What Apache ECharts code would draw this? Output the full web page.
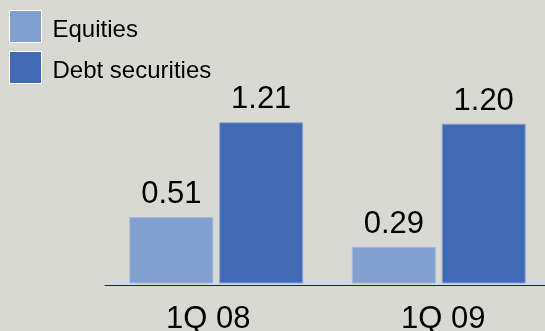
<!DOCTYPE html>
<html>
<head>
<meta charset="utf-8">
<script src="https://cdn.jsdelivr.net/npm/echarts@6/dist/echarts.min.js"></script>
<style>
html,body{margin:0;padding:0;background:#d9d9d4;}
#main{width:545px;height:331px;}
</style>
</head>
<body>
<div id="main"></div>
<script>
var categories = ['1Q 08', '1Q 09'];
var equities = [0.51, 0.29];
var debtSecurities = [1.21, 1.20];
var seriesNames = ['Equities', 'Debt securities'];

var FONT = "'Liberation Sans', Arial, sans-serif";
var chart = echarts.init(document.getElementById('main'), null, {renderer: 'canvas'});
var labelStyle = {
  show: true, position: 'top', distance: 7,
  fontSize: 31, fontFamily: FONT, color: '#000',
  formatter: function (p) { return p.value.toFixed(2); }
};
chart.setOption({
  backgroundColor: '#d9d9d4',
  animation: false,
  legend: {
    orient: 'vertical', left: 9, top: 10, padding: 0,
    itemWidth: 32, itemHeight: 32, itemGap: 8,
    icon: 'rect',
    data: seriesNames,
    itemStyle: {borderColor: '#ffffff', borderWidth: 1},
    formatter: function (name) { return '{t|' + name + '}'; },
    textStyle: {
      fontSize: 24, fontFamily: FONT, color: '#000',
      rich: {t: {fontSize: 24, fontFamily: FONT, color: '#000', padding: [7, 0, 0, 6]}}
    }
  },
  grid: {left: 105, top: 122.3, width: 445, bottom: 48, containLabel: false, outerBoundsMode: 'none'},
  xAxis: {
    type: 'category', data: categories,
    offset: 2,
    axisLine: {lineStyle: {color: '#0c2a57', width: 1}},
    axisTick: {show: false},
    axisLabel: {
      margin: 19, fontSize: 31, fontFamily: FONT, color: '#000',
      formatter: function (v, i) { return i === 0 ? '{a|' + v + '}' : '{b|' + v + '}'; },
      rich: {
        a: {fontSize: 31, fontFamily: FONT, color: '#000', padding: [0, 16, 0, 0]},
        b: {fontSize: 31, fontFamily: FONT, color: '#000', padding: [0, 0, 0, 9]}
      }
    }
  },
  yAxis: {
    type: 'value', min: 0.023, max: 1.21, show: false,
    splitLine: {show: false}
  },
  series: [
    {
      name: seriesNames[0], type: 'bar', data: equities,
      barWidth: 84, barGap: '7%',
      itemStyle: {color: '#819fcf', borderColor: '#a5b8df', borderWidth: 1},
      label: labelStyle
    },
    {
      name: seriesNames[1], type: 'bar', data: debtSecurities,
      barWidth: 84,
      itemStyle: {color: '#426ab4', borderColor: '#8ea5d6', borderWidth: 1},
      label: labelStyle
    }
  ]
});
</script>
</body>
</html>
